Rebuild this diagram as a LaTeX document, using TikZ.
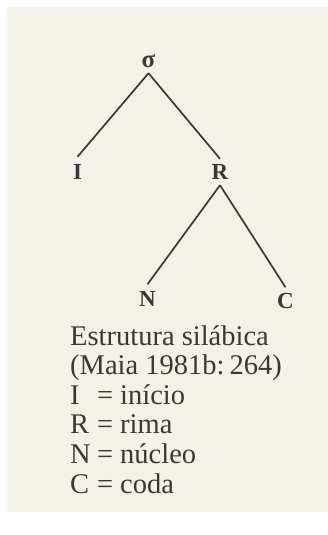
\documentclass[tikz,border=0pt]{standalone}
\usepackage{fontspec}
\setmainfont{Liberation Serif}
\definecolor{papier}{RGB}{244,241,232}
\definecolor{tinta}{RGB}{58,56,54}
\newcommand{\sigla}[1]{\makebox[27pt][l]{#1}=\hspace{7pt}}
\tikzset{
	ramo/.style={tinta, line width=1.7pt},
	rotulo/.style={font=\fontsize{23}{23}\selectfont\bfseries, text=tinta, inner xsep=0pt, text height=15pt, text depth=0pt},
}
\begin{document}
\begin{tikzpicture}[x=1pt, y=-1pt]
	\useasboundingbox (0,0) rectangle (328,535);
	% === fundo da página ===
	\fill[papier] (7,7) rectangle (328,512);
	
	% === árvore silábica ===
	\node[rotulo, font=\fontsize{25}{25}\selectfont\bfseries, text height=10pt, inner ysep=6pt] (sigma) at (148.5,62) {σ};
	\node[rotulo, inner ysep=7pt] (I) at (77.5,171.5) {I};
	\node[rotulo, inner ysep=5.5pt] (R) at (220,172) {R};
	\node[rotulo, inner ysep=7pt] (N) at (147.5,299) {N};
	\node[rotulo, inner ysep=6pt] (C) at (285.5,301) {C};
	
	\draw[ramo] (sigma.south) -- (I.north);
	\draw[ramo] (sigma.south) -- (R.north);
	\draw[ramo] (R.south) -- (N.north);
	\draw[ramo] (R.south) -- (C.north);
	
	% === legenda ===
	\node[anchor=north west, text=tinta, align=left, inner sep=0pt,
	font=\fontsize{28.5}{29.6}\selectfont] (legenda) at (70,325)
	{Estrutura silábica\\
		(Maia 1981b:\hspace{5pt}264)\\
		\sigla{I}início\\
		\sigla{R}rima\\
		\sigla{N}núcleo\\
		\sigla{C}coda};
\end{tikzpicture}
\end{document}
